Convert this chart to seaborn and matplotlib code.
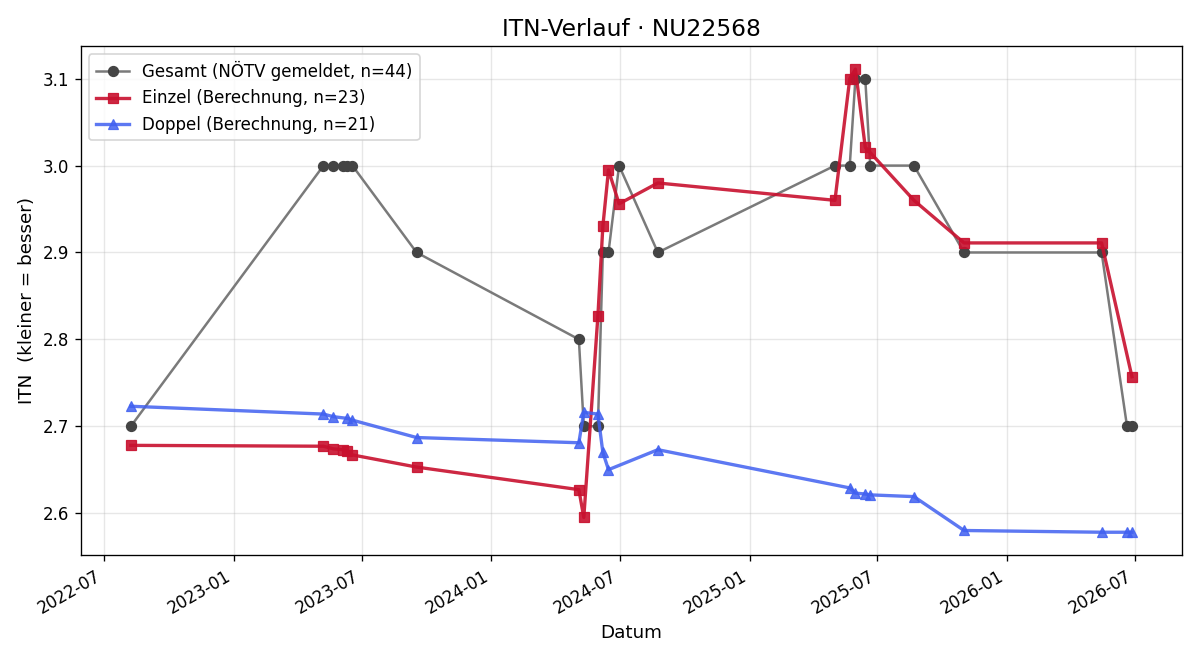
import matplotlib
matplotlib.use("Agg")
import matplotlib.pyplot as plt
import matplotlib.dates as mdates
import numpy as np
import pandas as pd
import seaborn as sns

# Gesamt (NÖTV gemeldet)
gesamt_dates = ["2022-08-08", "2023-05-08", "2023-05-22", "2023-06-04", "2023-06-11", "2023-06-18",
                "2023-09-17", "2024-05-04", "2024-05-11", "2024-05-31", "2024-06-07", "2024-06-15",
                "2024-06-30", "2024-08-24", "2025-05-02", "2025-05-23", "2025-05-31", "2025-06-14",
                "2025-06-21", "2025-08-22", "2025-11-01", "2026-05-15", "2026-06-20", "2026-06-27"]
gesamt_itn = [2.7, 3.0, 3.0, 3.0, 3.0, 3.0,
              2.9, 2.8, 2.7, 2.7, 2.9, 2.9,
              3.0, 2.9, 3.0, 3.0, 3.1, 3.1,
              3.0, 3.0, 2.9, 2.9, 2.7, 2.7]

# Einzel (Berechnung)
einzel_dates = ["2022-08-08", "2023-05-08", "2023-05-22", "2023-06-04", "2023-06-11", "2023-06-18",
                "2023-09-17", "2024-05-04", "2024-05-11", "2024-05-31", "2024-06-07", "2024-06-15",
                "2024-06-30", "2024-08-24", "2025-05-02", "2025-05-23", "2025-05-31", "2025-06-14",
                "2025-06-21", "2025-08-22", "2025-11-01", "2026-05-15", "2026-06-27"]
einzel_itn = [2.678, 2.677, 2.674, 2.673, 2.671, 2.667,
              2.653, 2.627, 2.595, 2.827, 2.930, 2.995,
              2.956, 2.980, 2.960, 3.100, 3.111, 3.021,
              3.015, 2.960, 2.911, 2.911, 2.757]

# Doppel (Berechnung)
doppel_dates = ["2022-08-08", "2023-05-08", "2023-05-22", "2023-06-11", "2023-06-18", "2023-09-17",
                "2024-05-04", "2024-05-11", "2024-05-31", "2024-06-07", "2024-06-15", "2024-08-24",
                "2025-05-23", "2025-05-31", "2025-06-14", "2025-06-21", "2025-08-22", "2025-11-01",
                "2026-05-15", "2026-06-20", "2026-06-27"]
doppel_itn = [2.723, 2.714, 2.711, 2.709, 2.707, 2.687,
              2.681, 2.716, 2.714, 2.670, 2.650, 2.673,
              2.629, 2.623, 2.622, 2.621, 2.619, 2.580,
              2.578, 2.578, 2.578]

fig, ax = plt.subplots(figsize=(10, 5.5), dpi=120)

sns.lineplot(x=pd.to_datetime(gesamt_dates), y=gesamt_itn, estimator=None, ax=ax,
             color="#7a7a7a", marker="o", markersize=6, linewidth=1.5,
             markerfacecolor="#444444", markeredgecolor="#444444",
             label="Gesamt (NÖTV gemeldet, n=44)")
sns.lineplot(x=pd.to_datetime(einzel_dates), y=einzel_itn, estimator=None, ax=ax,
             color="#c8102e", alpha=0.9, marker="s", markersize=6, linewidth=2,
             markeredgecolor="#c8102e", label="Einzel (Berechnung, n=23)")
sns.lineplot(x=pd.to_datetime(doppel_dates), y=doppel_itn, estimator=None, ax=ax,
             color="#4060f0", alpha=0.85, marker="^", markersize=6, linewidth=2,
             markeredgecolor="#4060f0", label="Doppel (Berechnung, n=21)")

ax.set_title("ITN-Verlauf · NU22568", fontsize=14)
ax.set_xlabel("Datum", fontsize=11)
ax.set_ylabel("ITN  (kleiner = besser)", fontsize=11)
ax.xaxis.set_major_locator(mdates.MonthLocator(bymonth=(1, 7)))
ax.xaxis.set_major_formatter(mdates.DateFormatter("%Y-%m"))
ax.grid(alpha=0.3)
ax.legend(loc="upper left")
fig.autofmt_xdate()
fig.tight_layout()
fig.savefig("out.png")
